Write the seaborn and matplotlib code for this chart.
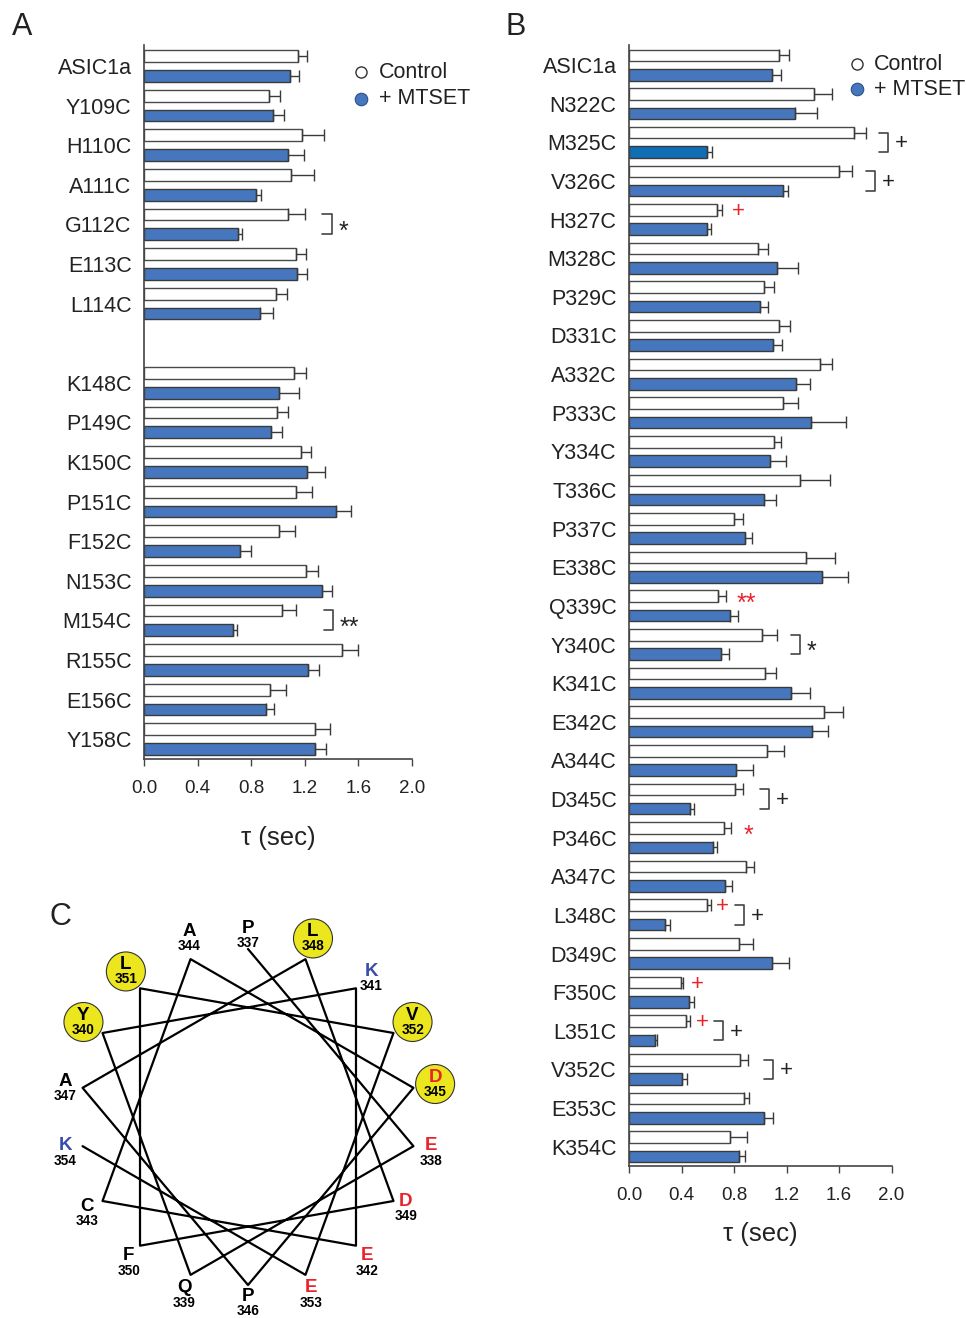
import numpy as np
import pandas as pd
import matplotlib
matplotlib.use("Agg")
import matplotlib.pyplot as plt
import seaborn as sns

# ---------------- Data: panel A ----------------
a_labels_top = ["ASIC1a", "Y109C", "H110C", "A111C", "G112C", "E113C", "L114C"]
a_labels_bot = ["K148C", "P149C", "K150C", "P151C", "F152C", "N153C", "M154C",
                "R155C", "E156C", "Y158C"]
a_ctrl = [1.147, 0.935, 1.179, 1.095, 1.072, 1.132, 0.987,
          1.122, 0.990, 1.172, 1.137, 1.005, 1.209, 1.027, 1.480, 0.940, 1.279]
a_ctrl_err = [0.072, 0.080, 0.167, 0.170, 0.130, 0.077, 0.080,
              0.085, 0.087, 0.072, 0.114, 0.120, 0.092, 0.107, 0.120, 0.120, 0.110]
a_mts = [1.090, 0.965, 1.075, 0.838, 0.701, 1.142, 0.868,
         1.005, 0.945, 1.214, 1.430, 0.714, 1.328, 0.662, 1.226, 0.908, 1.279]
a_mts_err = [0.070, 0.082, 0.120, 0.035, 0.033, 0.075, 0.097,
             0.154, 0.087, 0.137, 0.114, 0.082, 0.072, 0.035, 0.082, 0.065, 0.082]

# ---------------- Data: panel B ----------------
b_labels = ["ASIC1a", "N322C", "M325C", "V326C", "H327C", "M328C", "P329C", "D331C",
            "A332C", "P333C", "Y334C", "T336C", "P337C", "E338C", "Q339C", "Y340C",
            "K341C", "E342C", "A344C", "D345C", "P346C", "A347C", "L348C", "D349C",
            "F350C", "L351C", "V352C", "E353C", "K354C"]
b_ctrl = [1.145, 1.412, 1.714, 1.603, 0.673, 0.983, 1.026, 1.143, 1.458, 1.176,
          1.105, 1.303, 0.803, 1.351, 0.681, 1.011, 1.039, 1.489, 1.051, 0.808,
          0.724, 0.891, 0.592, 0.841, 0.396, 0.437, 0.843, 0.874, 0.772]
b_ctrl_err = [0.074, 0.135, 0.092, 0.096, 0.036, 0.079, 0.081, 0.086, 0.086, 0.112,
              0.051, 0.229, 0.069, 0.218, 0.061, 0.117, 0.081, 0.139, 0.132, 0.061,
              0.056, 0.061, 0.030, 0.106, 0.018, 0.030, 0.066, 0.038, 0.127]
b_mts = [1.090, 1.262, 0.592, 1.176, 0.592, 1.125, 0.996, 1.095, 1.272, 1.389,
         1.072, 1.031, 0.886, 1.468, 0.770, 0.704, 1.234, 1.394, 0.815, 0.462,
         0.643, 0.734, 0.277, 1.092, 0.455, 0.198, 0.401, 1.026, 0.841]
b_mts_err = [0.068, 0.173, 0.043, 0.035, 0.030, 0.160, 0.063, 0.071, 0.110, 0.267,
             0.122, 0.091, 0.053, 0.203, 0.058, 0.060, 0.145, 0.120, 0.132, 0.036,
             0.030, 0.053, 0.035, 0.130, 0.040, 0.015, 0.043, 0.069, 0.043]

# significance annotations: (label, bracket x1, bracket x2, symbol)
a_brackets = [("G112C", 1.33, 1.40, "*"), ("M154C", 1.34, 1.41, "**")]
b_brackets = [("M325C", 1.905, 1.973, "+"), ("V326C", 1.806, 1.874, "+"),
              ("Y340C", 1.234, 1.303, "*"), ("D345C", 0.998, 1.067, "+"),
              ("L348C", 0.808, 0.876, "+"), ("L351C", 0.648, 0.716, "+"),
              ("V352C", 1.029, 1.097, "+")]
b_red = [("H327C", 0.830, "+"), ("Q339C", 0.891, "**"), ("P346C", 0.914, "*"),
         ("L348C", 0.709, "+"), ("F350C", 0.518, "+"), ("L351C", 0.556, "+")]

# helical wheel
wheel_seq = list("PEQYKECADPALDFLVEK")
wheel_start = 337
wheel_highlight = [340, 345, 348, 351, 352]

# ---------------- Style ----------------
sns.set_theme(style="ticks")
plt.rcParams["font.family"] = ["Liberation Sans", "DejaVu Sans"]

CTRL_C = "white"
MTS_C = "#4677BE"
M325_C = "#0F6EB4"
EDGE = "#3a3a3a"
RED = "#E8232A"
KBLUE = "#3A4DA8"
YEL = "#EBE61E"

W, H = 966, 1318
fig = plt.figure(figsize=(W / 100, H / 100), dpi=100)


def px_rect(l, t, r, b):
    return [l / W, 1 - b / H, (r - l) / W, (b - t) / H]


def bar_panel(ax, order, labels, ctrl, ctrl_err, mts, mts_err, ylim, labelpad):
    rows = []
    for lab, c, m in zip(labels, ctrl, mts):
        rows.append((lab, "Control", c))
        rows.append((lab, "+ MTSET", m))
    df = pd.DataFrame(rows, columns=["mutant", "cond", "tau"])
    errs = {(lab, "Control"): e for lab, e in zip(labels, ctrl_err)}
    errs.update({(lab, "+ MTSET"): e for lab, e in zip(labels, mts_err)})
    sns.barplot(data=df, x="tau", y="mutant", hue="cond", order=order,
                hue_order=["Control", "+ MTSET"],
                palette={"Control": CTRL_C, "+ MTSET": MTS_C}, saturation=1,
                orient="h", width=1.0, gap=0.4, dodge=True, errorbar=None,
                legend=False, edgecolor=EDGE, linewidth=1.0, ax=ax)
    for p in ax.patches:
        yc = p.get_y() + p.get_height() / 2
        slot = int(round(yc))
        cond = "Control" if yc < slot else "+ MTSET"
        lab = order[slot]
        if (lab, cond) not in errs:
            continue
        if cond == "Control":
            p.set_edgecolor("#4a4a4a")
        if lab == "M325C" and cond == "+ MTSET":
            p.set_facecolor(M325_C)
        ax.errorbar(p.get_width(), yc, xerr=[[0], [errs[(lab, cond)]]], fmt="none",
                    ecolor=EDGE, elinewidth=1.0, capsize=4, capthick=1.0, zorder=4)
    ax.set_xlim(0, 2.0)
    ax.set_ylim(*ylim)
    ax.set_xticks(np.arange(0, 2.01, 0.4))
    ax.set_xticklabels([f"{v:.1f}" for v in np.arange(0, 2.01, 0.4)])
    ax.set_ylabel("")
    ax.set_xlabel("τ (sec)", fontsize=18.5, labelpad=labelpad, color="#222")
    ax.tick_params(axis="y", length=0, pad=9, labelsize=15.5, labelcolor="#222")
    ax.tick_params(axis="x", direction="out", length=5, width=1.0, color="#444",
                   labelsize=13.5, pad=10, labelcolor="#222")
    sns.despine(ax=ax)
    for s in ("left", "bottom"):
        ax.spines[s].set_color("#444")
        ax.spines[s].set_linewidth(1.2)


def slot_of(order, lab):
    return order.index(lab)


def brackets(ax, order, specs):
    for lab, x1, x2, sym in specs:
        s = slot_of(order, lab)
        ax.plot([x1, x2, x2, x1], [s - 0.25, s - 0.25, s + 0.25, s + 0.25],
                color="#444", lw=1.2, clip_on=False, zorder=5)
        if sym == "+":
            ax.text(x2 + 0.05, s + 0.04, sym, ha="left", va="center", fontsize=16,
                    color="#222", clip_on=False)
        else:
            ax.text(x2 + 0.05, s + 0.2, sym, ha="left", va="center", fontsize=18,
                    color="#222", clip_on=False)


def legend(ax, xm, xt, y1, y2):
    ax.plot([xm], [y1], marker="o", ms=8, mfc="white", mec="#333", mew=1.0,
            transform=ax.transAxes, clip_on=False, ls="")
    ax.plot([xm], [y2], marker="o", ms=9, mfc=MTS_C, mec="#2d4f86", mew=0.8,
            transform=ax.transAxes, clip_on=False, ls="")
    ax.text(xt, y1, "Control", transform=ax.transAxes, ha="left", va="center",
            fontsize=15.5, color="#222")
    ax.text(xt, y2, "+ MTSET", transform=ax.transAxes, ha="left", va="center",
            fontsize=15.5, color="#222")


# ---------------- Panel A ----------------
axA = fig.add_axes(px_rect(144, 45, 412, 759))
a_order = a_labels_top + [" "] + a_labels_bot
bar_panel(axA, a_order, a_labels_top + a_labels_bot, a_ctrl, a_ctrl_err,
          a_mts, a_mts_err, (17.5, -0.53), labelpad=21)
brackets(axA, a_order, a_brackets)
legend(axA, 0.81, 0.877, 0.962, 0.925)

# ---------------- Panel B ----------------
axB = fig.add_axes(px_rect(629, 45, 891.5, 1166))
bar_panel(axB, b_labels, b_labels, b_ctrl, b_ctrl_err, b_mts, b_mts_err,
          (28.5, -0.52), labelpad=13)
brackets(axB, b_labels, b_brackets)
for lab, x, sym in b_red:
    s = slot_of(b_labels, lab)
    if sym == "+":
        axB.text(x, s - 0.25 + 0.04, sym, ha="center", va="center", fontsize=16,
                 color=RED, clip_on=False)
    else:
        axB.text(x, s - 0.25 + 0.2, sym, ha="center", va="center", fontsize=18,
                 color=RED, clip_on=False)
legend(axB, 0.8686, 0.933, 0.983, 0.9606)

# ---------------- Panel C: helical wheel ----------------
axC = fig.add_axes(px_rect(0, 878, 500, 1318))
axC.set_xlim(0, 500)
axC.set_ylim(1318, 878)
axC.axis("off")
cx, cy, R = 248, 1117, 168
# small label nudges (pixels) so labels clear the wheel lines
label_nudge = {344: (5, -8), 341: (4, 0), 349: (-3, -5), 346: (0, -3)}
ang = np.deg2rad(90 - 100 * np.arange(len(wheel_seq)))
vx = cx + R * np.cos(ang)
vy = cy - R * np.sin(ang)
sns.lineplot(x=vx, y=vy, sort=False, estimator=None, color="black", lw=1.6, ax=axC)
for i, aa in enumerate(wheel_seq):
    num = wheel_start + i
    if num in wheel_highlight:
        rl, dy = 190, 0
    else:
        rl, dy = 185.5, 3.5
    nx, ny = label_nudge.get(num, (0, 0))
    lx = cx + rl * np.cos(ang[i]) + nx
    ly = cy - rl * np.sin(ang[i]) + dy + ny
    if num in wheel_highlight:
        axC.add_patch(plt.Circle((lx, ly), 19.5, facecolor=YEL, edgecolor="#333",
                                 lw=0.8, zorder=3))
    col = RED if aa in "DE" else (KBLUE if aa == "K" else "black")
    axC.text(lx, ly - 7, aa, ha="center", va="center", fontsize=13.5,
             fontweight="bold", color=col, zorder=4)
    axC.text(lx, ly + 8, str(num), ha="center", va="center", fontsize=9.8,
             fontweight="bold", color="black", zorder=4)

# panel letters
fig.text(22 / W, 1 - 27 / H, "A", ha="center", va="center", fontsize=22, color="#222")
fig.text(516 / W, 1 - 27 / H, "B", ha="center", va="center", fontsize=22, color="#222")
fig.text(60 / W, 1 - 917 / H, "C", ha="center", va="center", fontsize=22, color="#222")

fig.savefig("out.png", dpi=100)
